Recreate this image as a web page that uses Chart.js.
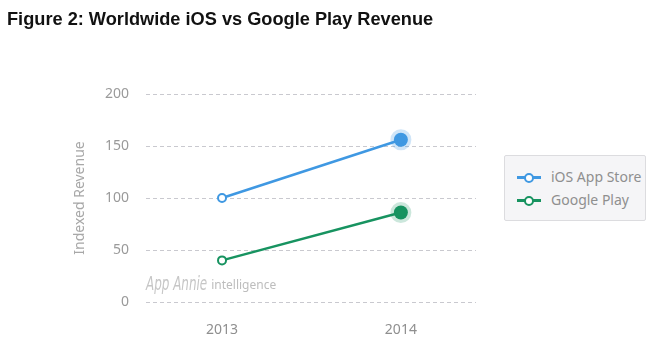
<!DOCTYPE html>
<html>
<head>
<meta charset="utf-8">
<script src="https://cdn.jsdelivr.net/npm/chart.js@4"></script>
<style>
  html, body { margin: 0; padding: 0; background: #fff; }
  #wrap { position: relative; width: 660px; height: 346px; overflow: hidden; }
  #title {
    position: absolute; left: 7px; top: 9px;
    font: bold 18.2px "Liberation Sans", Arial, sans-serif; color: #111;
  }
  #chart { position: absolute; left: 0; top: 0; }
  #legend {
    position: absolute; left: 504px; top: 155px; width: 140px; height: 64px;
    background: #f5f5f7; border: 1px solid #dcdcdf; border-radius: 2px;
    font: 14px "Noto Sans", sans-serif; color: #8f8f8f;
  }
  .item { position: absolute; left: 12px; height: 20px; line-height: 20px; }
  .icon { position: absolute; left: 0; top: 9px; width: 24px; height: 3px; }
  .dot { position: absolute; left: 7px; top: -3.5px; width: 6px; height: 6px;
         border-radius: 50%; border: 2px solid; background: #fff; }
  .label { position: absolute; left: 34px; top: 0; white-space: nowrap; }
</style>
</head>
<body>
<div id="wrap">
  <canvas id="chart" width="660" height="346"></canvas>
  <div id="title">Figure 2: Worldwide iOS vs Google Play Revenue</div>
  <div id="legend"></div>
</div>
<script>
// data
const years = [2013, 2014];
const iosRevenue = [100, 156];
const googleRevenue = [40, 86];
const yTicks = [0, 50, 100, 150, 200];
const seriesNames = ['iOS App Store', 'Google Play'];

const blue = '#3f98e2';
const green = '#179360';

function points(values) {
    return years.map((yr, i) => ({ x: yr, y: values[i] }));
}

// faint "App Annie intelligence" watermark in the bottom left of the plot
const watermark = {
    id: 'watermark',
    beforeDatasetsDraw(chart) {
        const ctx = chart.ctx;
        const area = chart.chartArea;
        ctx.save();
        ctx.textBaseline = 'alphabetic';
        ctx.fillStyle = '#c6c6c6';
        ctx.font = 'italic 19px "DejaVu Sans Condensed", sans-serif';
        const w = ctx.measureText('App Annie').width * 0.7;
        ctx.save();
        ctx.translate(area.left, area.bottom - 12);
        ctx.scale(0.7, 1);
        ctx.fillText('App Annie', 0, 0);
        ctx.restore();
        ctx.fillStyle = '#bdbdbd';
        ctx.font = '12px "Noto Sans", sans-serif';
        ctx.fillText('intelligence', area.left + w + 4, area.bottom - 13);
        ctx.restore();
    }
};

function makeDataset(name, values, color, halo) {
    return {
        label: name,
        data: points(values),
        borderColor: color,
        borderWidth: 2.5,
        pointRadius: [4, 7],
        pointBackgroundColor: ['#fff', color],
        pointBorderColor: [color, halo],
        pointBorderWidth: [2, 7],
        pointHoverRadius: [4, 7],
        tension: 0
    };
}

new Chart(document.getElementById('chart'), {
    type: 'line',
    data: {
        datasets: [
            makeDataset(seriesNames[0], iosRevenue, blue, 'rgba(63,152,226,0.25)'),
            makeDataset(seriesNames[1], googleRevenue, green, 'rgba(23,147,96,0.22)')
        ]
    },
    options: {
        responsive: false,
        animation: false,
        layout: { padding: { top: 94, right: 184, left: 0, bottom: 0 } },
        plugins: {
            legend: { display: false },
            tooltip: { enabled: false }
        },
        scales: {
            x: {
                type: 'linear',
                min: 2012.575,
                max: 2014.42,
                afterBuildTicks: scale => { scale.ticks = years.map(v => ({ value: v })); },
                afterFit: scale => { scale.height = 44; },
                grid: { display: false, drawTicks: false },
                border: { display: false },
                ticks: {
                    padding: 20,
                    color: '#8f8f8f',
                    font: { family: 'Noto Sans', size: 14 },
                    callback: v => String(v)
                }
            },
            y: {
                min: 0,
                max: 200,
                afterBuildTicks: scale => { scale.ticks = yTicks.map(v => ({ value: v })); },
                afterFit: scale => { scale.width = 146; },
                grid: { color: '#c9c9cf', lineWidth: 1, drawTicks: false },
                border: { display: false, dash: [4, 3] },
                ticks: {
                    padding: 17,
                    color: '#9a9a9a',
                    font: { family: 'Noto Sans', size: 14 }
                },
                title: {
                    display: true,
                    text: 'Indexed Revenue',
                    color: '#a8a8a8',
                    font: { family: 'Noto Sans', size: 14 },
                    padding: { top: 72, bottom: 0 }
                }
            }
        }
    },
    plugins: [watermark]
});

// legend box built from the same series
const legendColors = [blue, green];
document.getElementById('legend').innerHTML = seriesNames.map((name, i) =>
    `<div class="item" style="top:${11 + i * 23}px">
        <span class="icon" style="background:${legendColors[i]}">
            <span class="dot" style="border-color:${legendColors[i]}"></span>
        </span>
        <span class="label">${name}</span>
    </div>`
).join('');
</script>
</body>
</html>
